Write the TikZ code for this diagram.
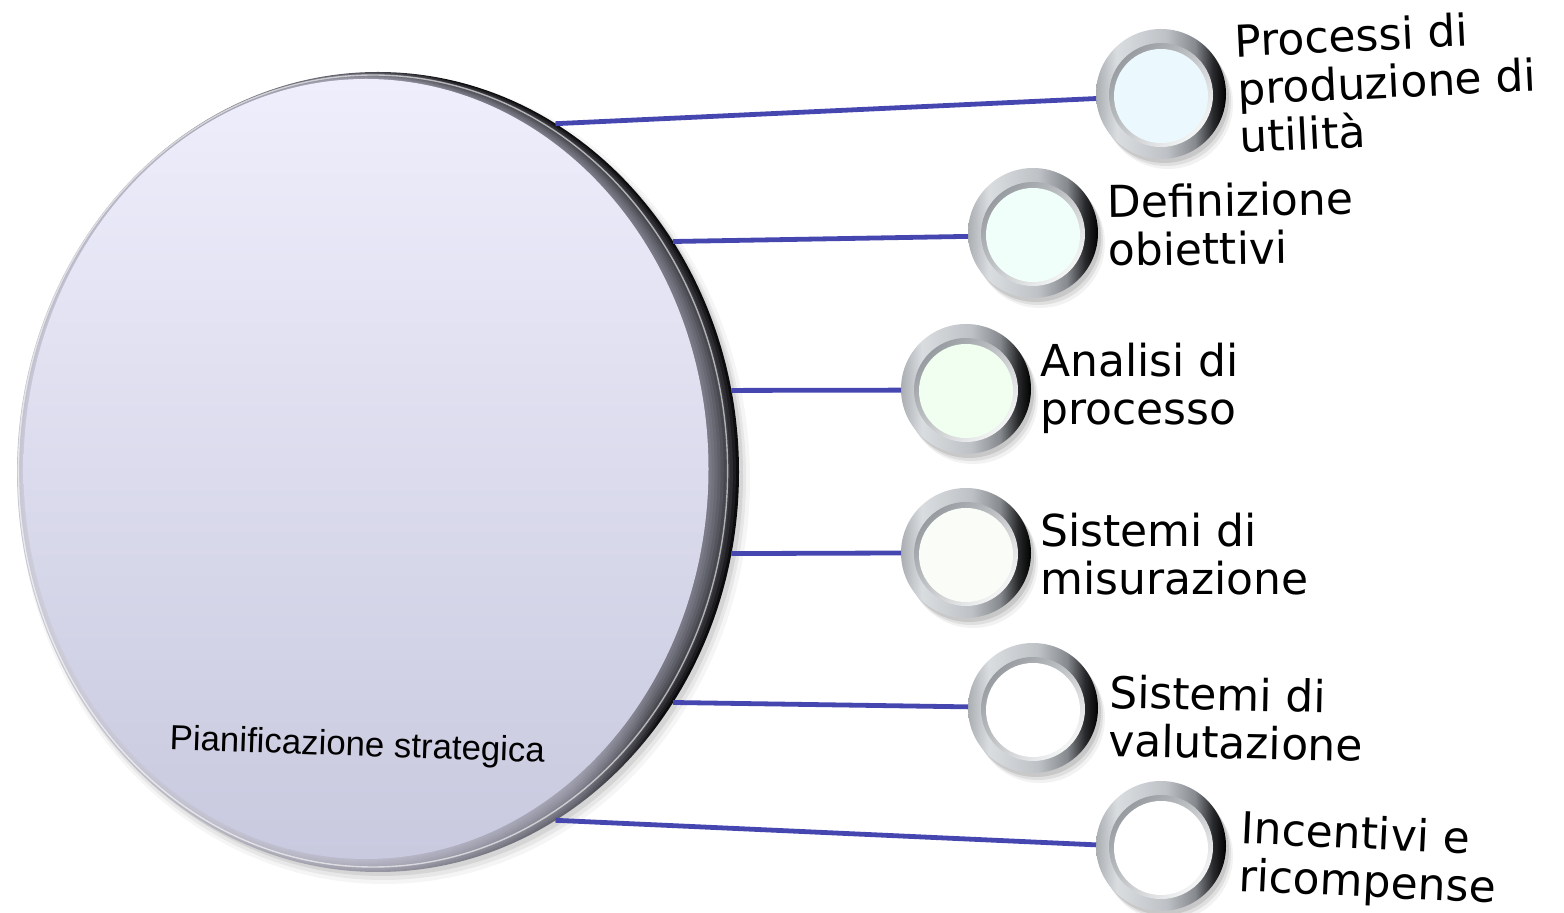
\documentclass[tikz,border=0pt]{standalone}
\usepackage{fontspec}
\newfontfamily\labelfont{DejaVu Sans}
\newfontfamily\titlefont{Liberation Sans}
\usetikzlibrary{shapes.geometric}

\definecolor{linkblue}{RGB}{70,70,176}
\definecolor{lavtop}{RGB}{238,238,252}
\definecolor{lavbot}{RGB}{201,201,223}
\definecolor{lavmid}{RGB}{216,216,236}
\definecolor{rimlight}{RGB}{200,200,210}
\definecolor{rimmid}{RGB}{150,150,162}
\definecolor{rimgray}{RGB}{95,95,105}
\definecolor{rimdark}{RGB}{12,12,14}
\definecolor{knobedge}{RGB}{170,174,178}
\definecolor{knoblight}{RGB}{218,221,224}
\definecolor{knobmid}{RGB}{190,194,198}
\definecolor{knobmidd}{RGB}{135,139,143}
\definecolor{knobdark}{RGB}{40,41,43}
\definecolor{bevel}{RGB}{140,145,150}

% rim of the main disc: silver on the left, black on the right
\pgfdeclarehorizontalshading{discrim}{100bp}{color(0bp)=(rimlight); color(25bp)=(rimlight);
  color(42bp)=(rimmid); color(56bp)=(rimgray); color(63bp)=(rimdark); color(100bp)=(rimdark)}
% rim of a small button
\pgfdeclarehorizontalshading{knobrim}{100bp}{color(0bp)=(knobedge); color(25bp)=(knobedge);
  color(33bp)=(knoblight); color(52bp)=(knobmid); color(63bp)=(knobmidd);
  color(70bp)=(knobdark); color(75bp)=(black); color(100bp)=(black)}

\begin{document}
\begin{tikzpicture}[x=0.5pt,y=-0.5pt,
  link/.style={draw=linkblue, line width=2.4pt},
  knob/.style={circle, inner sep=0pt, outer sep=0pt, minimum size=65pt,
    preaction={fill=black, fill opacity=0.05, transform canvas={shift={(3.5pt,-5pt)}}},
    preaction={fill=black, fill opacity=0.08, transform canvas={shift={(2.5pt,-3.5pt)}}},
    preaction={fill=black, fill opacity=0.10, transform canvas={shift={(1.5pt,-2pt)}}},
    shade, shading=knobrim, shading angle=0,
    path picture={
      \shade[top color=bevel, bottom color=white, shading angle=45]
        ([yshift=-0.5pt]path picture bounding box.center) circle (26pt);
      \fill[#1] ([yshift=-1pt]path picture bounding box.center) circle (23.5pt);
    }},
  lbl/.style={font=\labelfont\fontsize{22pt}{24pt}\selectfont,
    align=left, anchor=base west, inner sep=0pt}]

\useasboundingbox (0,0) rectangle (1564,913);

% soft shadow under the main disc
\fill[black,opacity=.04] (384,479) ellipse [x radius=183pt, y radius=202.5pt];
\fill[black,opacity=.06] (383,478) ellipse [x radius=181.5pt, y radius=201pt];
\fill[black,opacity=.08] (382,476) ellipse [x radius=180.5pt, y radius=200pt];

% main disc: bevelled rim, then the lavender face
\node[ellipse, inner sep=0pt, outer sep=0pt,
      minimum width=361pt, minimum height=400pt,
      shade, shading=discrim, shading angle=18] (big) at (378,472) {};
\foreach \t in {0.1,0.2,0.3,0.4,0.5,0.6,0.7,0.8,0.9} {
  \pgfmathsetmacro\cx{378-12*\t}
  \pgfmathsetmacro\cy{472-3*\t}
  \pgfmathsetmacro\rx{180.5-9.25*\t}
  \pgfmathsetmacro\ry{200-5*\t}
  \fill[lavmid,opacity=.085] (\cx,\cy) ellipse [x radius=\rx pt, y radius=\ry pt];
}
\draw[white,opacity=.6,line width=.7pt] (373,471) ellipse [x radius=177.3pt, y radius=198pt];
\shade[top color=lavtop, bottom color=lavbot] (366,469) ellipse [x radius=171.25pt, y radius=195pt];

\node[font=\titlefont\fontsize{17.4pt}{20pt}\selectfont, anchor=base,
      rotate=-2, inner sep=0pt] (title) at (357,756) {Pianificazione strategica};

% the six satellite buttons
\node[knob={fill=blue!30!cyan!8}]   (s1) at (1161,94)  {};
\node[knob={fill=green!40!cyan!6}]  (s2) at (1033,233) {};
\node[knob={fill=green!6}]          (s3) at (966,389)  {};
\node[knob={fill=yellow!30!green!3}](s4) at (966,553)  {};
\node[knob={fill=white}]            (s5) at (1033,708) {};
\node[knob={fill=white}]            (s6) at (1161,846) {};

% connectors
\draw[link] (big.63)  -- (s1.184);
\draw[link] (big.38)  -- (s2.183);
\draw[link] (big.13)  -- (s3.181);
\draw[link] (big.-13) -- (s4.180);
\draw[link] (big.-38) -- (s5.179);
\draw[link] (big.-63) -- (s6.179);

% labels (anchored at the baseline of their last line)
\node[lbl, rotate=2.7]  (t1) at (1240,153) {Processi di\\produzione di\\utilità};
\node[lbl, rotate=0.8]  (t2) at (1108,266) {Definizione\\obiettivi};
\node[lbl]              (t3) at (1040,425) {Analisi di\\processo};
\node[lbl]              (t4) at (1040,595) {Sistemi di\\misurazione};
\node[lbl, rotate=-1.2] (t5) at (1108,756) {Sistemi di\\valutazione};
\node[lbl, rotate=-2.7] (t6) at (1238,891) {Incentivi e\\ricompense};
\end{tikzpicture}
\end{document}
